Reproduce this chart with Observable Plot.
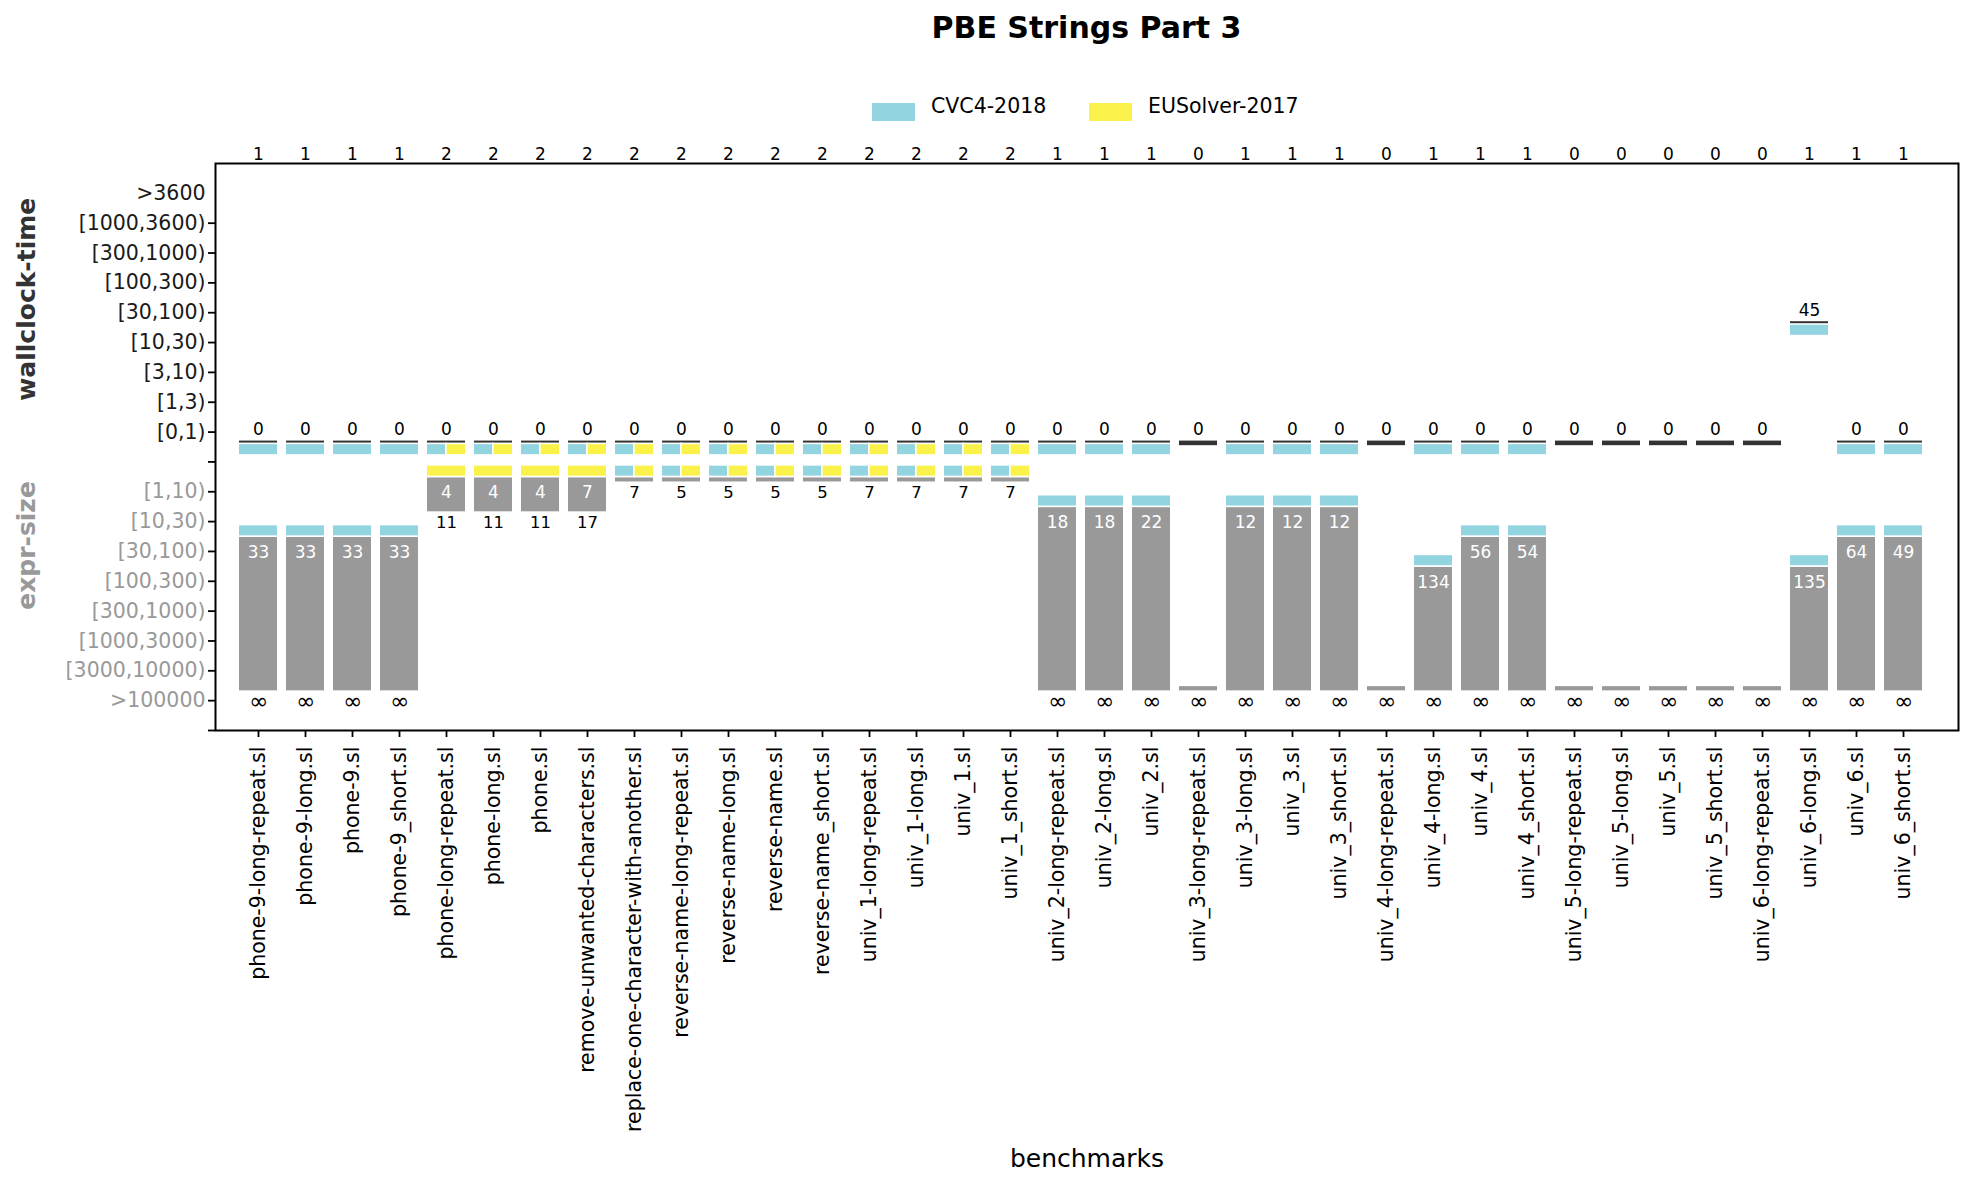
<!DOCTYPE html>
<html>
<head>
<meta charset="utf-8">
<script src="https://cdn.jsdelivr.net/npm/d3@7"></script>
<script src="https://cdn.jsdelivr.net/npm/@observablehq/plot@0.6"></script>
<style>
  html, body { margin: 0; padding: 0; background: #fff; }
  body { width: 1982px; height: 1188px; position: relative; font-family: "DejaVu Sans", sans-serif; overflow: hidden; }
  #title { position: absolute; left: 215px; width: 1743px; top: 10px; text-align: center;
           font-size: 30px; line-height: 36px; font-weight: bold; color: #000; }
  #legend { position: absolute; top: 0; left: 0; }
  .sw { position: absolute; top: 103px; width: 43px; height: 18px; }
  .lt { position: absolute; top: 94px; font-size: 20.5px; line-height: 24px; color: #000; white-space: nowrap; }
  #chart { position: absolute; left: 0; top: 130px; }
</style>
</head>
<body>
<div id="title">PBE Strings Part 3</div>
<div id="legend"></div>
<div id="chart"></div>
<script>
// Benchmarks, in plotting order
const benchmarks = [
  "phone-9-long-repeat.sl", "phone-9-long.sl", "phone-9.sl", "phone-9_short.sl",
  "phone-long-repeat.sl", "phone-long.sl", "phone.sl", "remove-unwanted-characters.sl",
  "replace-one-character-with-another.sl", "reverse-name-long-repeat.sl", "reverse-name-long.sl",
  "reverse-name.sl", "reverse-name_short.sl",
  "univ_1-long-repeat.sl", "univ_1-long.sl", "univ_1.sl", "univ_1_short.sl",
  "univ_2-long-repeat.sl", "univ_2-long.sl", "univ_2.sl",
  "univ_3-long-repeat.sl", "univ_3-long.sl", "univ_3.sl", "univ_3_short.sl",
  "univ_4-long-repeat.sl", "univ_4-long.sl", "univ_4.sl", "univ_4_short.sl",
  "univ_5-long-repeat.sl", "univ_5-long.sl", "univ_5.sl", "univ_5_short.sl",
  "univ_6-long-repeat.sl", "univ_6-long.sl", "univ_6.sl", "univ_6_short.sl"
];

const N = null; // not solved

// Wall-clock time (seconds, rounded) per solver
const cvc4Time = [0, 0, 0, 0,  0, 0, 0, 0,  0, 0, 0, 0, 0,  0, 0, 0, 0,  0, 0, 0,
                  N, 0, 0, 0,  N, 0, 0, 0,  N, N, N, N,  N, 45, 0, 0];
const eusTime  = [N, N, N, N,  0, 0, 0, 0,  0, 0, 0, 0, 0,  0, 0, 0, 0,  N, N, N,
                  N, N, N, N,  N, N, N, N,  N, N, N, N,  N, N, N, N];

// Size of the synthesized expression per solver
const cvc4Size = [33, 33, 33, 33,  11, 11, 11, 17,  7, 5, 5, 5, 5,  7, 7, 7, 7,  18, 18, 22,
                  N, 12, 12, 12,  N, 134, 56, 54,  N, N, N, N,  N, 135, 64, 49];
const eusSize  = [N, N, N, N,  4, 4, 4, 7,  7, 5, 5, 5, 5,  7, 7, 7, 7,  N, N, N,
                  N, N, N, N,  N, N, N, N,  N, N, N, N,  N, N, N, N];

// Bucket labels and their lower bounds
const timeTicks = [">3600", "[1000,3600)", "[300,1000)", "[100,300)", "[30,100)", "[10,30)", "[3,10)", "[1,3)", "[0,1)"];
const timeLower = [3600, 1000, 300, 100, 30, 10, 3, 1, 0];
const sizeTicks = ["[1,10)", "[10,30)", "[30,100)", "[100,300)", "[300,1000)", "[1000,3000)", "[3000,10000)", ">100000"];
const sizeLower = [1, 10, 30, 100, 300, 1000, 3000, 100000];

const solvers = [
  {name: "CVC4-2018", color: "#93d4e1", time: cvc4Time, size: cvc4Size},
  {name: "EUSolver-2017", color: "#faf24a", time: eusTime, size: eusSize}
];

// Rows of the shared y axis: 0..8 time buckets, 9 spacer, 10..17 size buckets, 18 floor
const SIZE0 = timeTicks.length + 1;
const ROW_MAX = SIZE0 + sizeTicks.length; // 18
const timeRow = v => timeLower.findIndex(l => v >= l);
const sizeRow = v => {
  if (!Number.isFinite(v)) return SIZE0 + sizeTicks.length - 1;
  let j = 0;
  sizeLower.forEach((l, k) => { if (v >= l) j = k; });
  return SIZE0 + j;
};

// Layout
const W = 1982, H = 1058;
const mTop = 33, mBottom = 458, mLeft = 215, mRight = 24;
const rowPx = (H - mTop - mBottom) / (ROW_MAX + 1);
const u = px => px / rowPx;          // pixel offset -> row units
const step = (1928.4 - 231.7) / benchmarks.length;
const bw = step * 0.8;

const rows = benchmarks.map((bench, i) => {
  const solved = solvers.filter(s => s.time[i] != null);
  const times = solved.map(s => s.time[i]);
  const tFast = times.length ? d3.min(times) : 0;
  const tSlow = times.length ? d3.max(times) : 0;
  const sizes = solvers.map(s => s.size[i] ?? Infinity);
  const sMin = d3.min(sizes), sMax = d3.max(sizes);
  return {
    bench, count: solved.length, tFast, tSlow,
    tRowFast: timeRow(tFast), tRowSlow: timeRow(tSlow),
    timeWinners: solved.filter(s => timeRow(s.time[i]) === timeRow(tFast)),
    sMin, sMax, sRowMin: sizeRow(sMin), sRowMax: sizeRow(sMax),
    sizeWinners: solvers.filter(s => s.size[i] != null && s.size[i] === sMin)
  };
});

// Coloured strips marking which solver reached the best bucket
const strips = [];
for (const r of rows) {
  const add = (winners, y1, y2) => winners.forEach((s, k) => strips.push({
    bench: r.bench, color: s.color, y1, y2,
    part: winners.length === 1 ? "full" : (k === 0 ? "left" : "right")
  }));
  add(r.timeWinners, r.tRowFast + u(11.8), r.tRowFast + u(23.4));
  add(r.sizeWinners, r.sRowMin - u(26.4), r.sRowMin - u(14.8));
}

const stripMark = (part, insetLeft, insetRight) => Plot.barY(strips.filter(d => d.part === part), {
  x: "bench", y1: "y1", y2: "y2", fill: "color", stroke: "white", strokeWidth: 1.6,
  insetLeft, insetRight
});

const timeLabels = timeTicks.map((label, i) => ({label, row: i}));
const sizeLabels = sizeTicks.map((label, j) => ({label, row: SIZE0 + j}));
const fmt = v => Number.isFinite(v) ? String(Math.round(v)) : "\u221e";
const valueSize = v => Number.isFinite(v) ? 16.5 : 23;

const chart = Plot.plot({
  width: W, height: H,
  marginTop: mTop, marginBottom: mBottom, marginLeft: mLeft, marginRight: mRight,
  style: {fontFamily: "DejaVu Sans, sans-serif", background: "white", color: "#000"},
  x: {type: "band", domain: benchmarks, range: [231.7, 1928.4], paddingInner: 0.2, paddingOuter: 0.1, axis: null},
  y: {type: "linear", domain: [ROW_MAX, -1], axis: null},
  marks: [
    // axis ticks
    Plot.axisY(d3.range(1, ROW_MAX + 1), {tickSize: 7, tickFormat: () => "", stroke: "#000", strokeWidth: 1.8, label: null}),
    Plot.axisX({tickSize: 7, tickFormat: () => "", stroke: "#000", strokeWidth: 1.8, label: null}),
    // y tick labels
    Plot.text(timeLabels, {y: "row", text: "label", frameAnchor: "left", textAnchor: "end", lineAnchor: "middle", dx: -10, fontSize: 20.5, fill: "#1a1a1a"}),
    Plot.text(sizeLabels, {y: "row", text: "label", frameAnchor: "left", textAnchor: "end", lineAnchor: "middle", dx: -10, fontSize: 20.5, fill: "#999"}),
    // x tick labels
    Plot.text(benchmarks, {x: d => d, frameAnchor: "bottom", rotate: -90, textAnchor: "end", lineAnchor: "middle", dy: 16, fontSize: 20.5, fill: "#000"}),
    // axis titles
    Plot.text(["wallclock-time"], {frameAnchor: "left", y: 3.55, rotate: -90, textAnchor: "middle", lineAnchor: "middle", dx: -189, fontSize: 25, fontWeight: "bold", fill: "#333"}),
    Plot.text(["expr-size"], {frameAnchor: "left", y: 11.8, rotate: -90, textAnchor: "middle", lineAnchor: "middle", dx: -189, fontSize: 25, fontWeight: "bold", fill: "#999"}),
    Plot.text(["benchmarks"], {frameAnchor: "bottom", lineAnchor: "middle", dy: 428, fontSize: 25, fill: "#000"}),
    // number of solvers that solved each benchmark
    Plot.text(rows, {x: "bench", text: d => String(d.count), frameAnchor: "top", lineAnchor: "middle", dy: -9, fontSize: 17, fill: "#000"}),
    // time range (slowest .. fastest solved)
    Plot.barY(rows, {x: "bench", y1: d => d.tRowSlow + u(9), y2: d => d.tRowFast + u(13.6), fill: "#333"}),
    // size range (smallest .. largest, unsolved counted as infinite)
    Plot.barY(rows, {x: "bench", y1: d => d.sRowMin - u(14), y2: d => d.sRowMax - u(9.8), fill: "#999"}),
    // winner strips
    stripMark("full", -0.8, -0.8),
    stripMark("left", -0.8, bw / 2),
    stripMark("right", bw / 2, -0.8),
    // value labels
    Plot.text(rows, {x: "bench", y: "tRowSlow", text: d => fmt(d.tSlow), dy: -2.5, fontSize: 17, fill: "#000"}),
    Plot.text(rows.filter(d => Number.isFinite(d.sMin) && d.sMin !== d.sMax),
      {x: "bench", y: "sRowMin", text: d => fmt(d.sMin), dy: 1, fontSize: 17, fill: "white"}),
    Plot.text(rows, {x: "bench", y: "sRowMax", text: d => fmt(d.sMax), dy: 1, fontSize: d => valueSize(d.sMax), fill: "#000"}),
    Plot.frame({stroke: "#000", strokeWidth: 2})
  ]
});
document.getElementById("chart").appendChild(chart);

// Legend
const legend = document.getElementById("legend");
const legendX = [[872, 931], [1089, 1148]];
solvers.forEach((s, k) => {
  const sw = document.createElement("div");
  sw.className = "sw";
  sw.style.left = legendX[k][0] + "px";
  sw.style.background = s.color;
  const t = document.createElement("div");
  t.className = "lt";
  t.style.left = legendX[k][1] + "px";
  t.textContent = s.name;
  legend.appendChild(sw);
  legend.appendChild(t);
});
</script>
</body>
</html>
